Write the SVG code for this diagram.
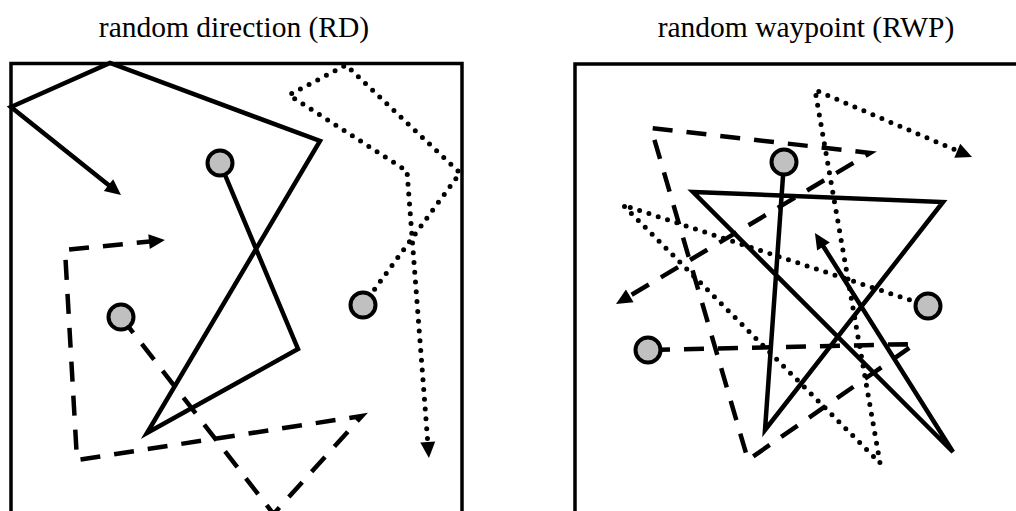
<svg xmlns="http://www.w3.org/2000/svg" width="1016" height="511" viewBox="0 0 1016 511">
  <style>
    .title { font-family: "Liberation Serif", "Times New Roman", serif; font-size: 29.5px; fill: #000; text-anchor: middle; }
    .frame { fill: none; stroke: #000; stroke-width: 3.5; }
    .trail { fill: none; stroke: #000; stroke-width: 4.5; stroke-linejoin: miter; }
    .dash { stroke-dasharray: 20 14; }
    .dot { stroke-width: 5; stroke-dasharray: 0 9.8; stroke-linecap: round; stroke-linejoin: round; }
    .node { fill: #c0c0c0; stroke: #000; stroke-width: 4; }
  </style>
  <defs>
    <!-- filled arrowhead; tip lands 10px past the path end -->
    <marker id="head" markerUnits="userSpaceOnUse" markerWidth="17" markerHeight="16" refX="6" refY="7.5" orient="auto" overflow="visible">
      <path d="M0,0 L16,7.5 L0,15 z" fill="#000"/>
    </marker>
  </defs>

  <rect width="1016" height="511" fill="#fff"/>

  <!-- panel frames and titles -->
  <g id="panel-rd">
    <text class="title" x="234" y="37">random direction (RD)</text>
    <rect class="frame" x="11" y="63.5" width="451" height="480"/>
  </g>
  <g id="panel-rwp">
    <text class="title" x="806" y="37">random waypoint (RWP)</text>
    <rect class="frame" x="575" y="64" width="480" height="480"/>
  </g>

  <!-- movement trajectories -->
  <g id="connectors">
    <path id="rd-solid" class="trail" d="M220,163 L298,349 L147,433 L320,141 L110,63 L11,107 L113.2,188.8" marker-end="url(#head)"/>
    <path id="rd-dashed" class="trail dash" d="M121,317 L273.5,514 L362,416 L77,460 L65,250 L155,241" marker-end="url(#head)"/>
    <path id="rd-dotted" class="trail dot" d="M363,305 L460,173 L346,65 L289,95 L407,171 L428.2,448" marker-end="url(#head)"/>

    <path id="rwp-solid" class="trail" d="M784,162 L765,430 L943,202 L693,192 L953,452 L820.3,241.5" marker-end="url(#head)"/>
    <path id="rwp-dashed" class="trail dash" d="M650,350 L915,344 L748,460 L651,128 L870,153 L624.6,298.9" marker-end="url(#head)"/>
    <path id="rwp-dotted" class="trail dot" d="M928,306 L623,205 L880,463 L815,90 L962.8,153.1" marker-end="url(#head)"/>
  </g>

  <!-- start positions -->
  <g id="node-rd-solid"><circle class="node" cx="220" cy="163" r="12.5"/></g>
  <g id="node-rd-dashed"><circle class="node" cx="121" cy="317" r="12.5"/></g>
  <g id="node-rd-dotted"><circle class="node" cx="363" cy="305" r="12.5"/></g>
  <g id="node-rwp-solid"><circle class="node" cx="784" cy="162" r="12.5"/></g>
  <g id="node-rwp-dashed"><circle class="node" cx="648" cy="350" r="12.5"/></g>
  <g id="node-rwp-dotted"><circle class="node" cx="928" cy="306" r="12.5"/></g>
</svg>
